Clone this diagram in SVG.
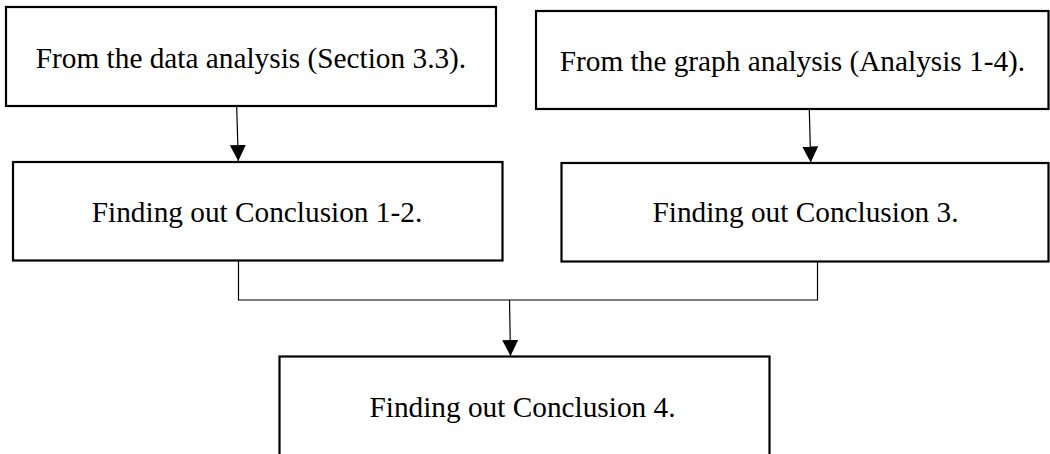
<svg xmlns="http://www.w3.org/2000/svg" width="1050" height="454" viewBox="0 0 1050 454">
<style>
.box{fill:#fff;stroke:#000;stroke-width:2.2}
.lbl{font-family:"Liberation Serif","Times New Roman",serif;font-size:29.3px;fill:#000;text-anchor:middle}
.con{fill:none;stroke:#000;stroke-width:1.2}
</style>
<defs>
<marker id="ah" markerUnits="userSpaceOnUse" markerWidth="17" markerHeight="17" refX="16" refY="8" orient="auto">
<path d="M0,0 L16,8 L0,16 Z" fill="#000"/>
</marker>
</defs>
<rect width="1050" height="454" fill="#fff"/>
<g id="connectors">
<line class="con" x1="236.7" y1="107" x2="238.3" y2="161" marker-end="url(#ah)"/>
<line class="con" x1="809.3" y1="110" x2="810.7" y2="162.5" marker-end="url(#ah)"/>
<polyline class="con" points="238.5,261 238.5,300 817.5,300 817.5,262"/>
<line class="con" x1="509.5" y1="300" x2="510.5" y2="356" marker-end="url(#ah)"/>
</g>
<g id="n1">
<rect class="box" x="6" y="7" width="490" height="99"/>
<text class="lbl" x="251" y="68.3">From the data analysis (Section 3.3).</text>
</g>
<g id="n2">
<rect class="box" x="536" y="11" width="512.5" height="98"/>
<text class="lbl" x="792.5" y="71">From the graph analysis (Analysis 1-4).</text>
</g>
<g id="n3">
<rect class="box" x="13" y="162" width="489.5" height="98.5"/>
<text class="lbl" x="257" y="221.7">Finding out Conclusion 1-2.</text>
</g>
<g id="n4">
<rect class="box" x="561.5" y="163" width="487" height="98.5"/>
<text class="lbl" x="805.5" y="221.7">Finding out Conclusion 3.</text>
</g>
<g id="n5">
<rect class="box" x="279.5" y="356.5" width="490" height="120"/>
<text class="lbl" x="522.5" y="416.5">Finding out Conclusion 4.</text>
</g>
</svg>
